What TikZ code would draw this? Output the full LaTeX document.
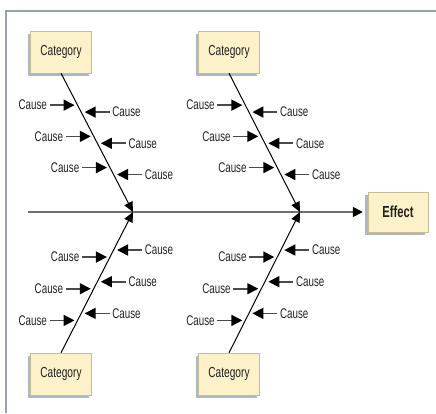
\documentclass[tikz,border=0pt]{standalone}
\usepackage{fontspec}
\setmainfont{Liberation Sans}[FakeStretch=0.7]
\usetikzlibrary{arrows.meta, positioning, calc, shadows}
\definecolor{boxFill}{HTML}{FCF1C8}
\definecolor{boxLine}{HTML}{C9BC94}
\definecolor{boxShadow}{HTML}{A9B9C8}
\definecolor{frameLine}{HTML}{94A3B3}
\definecolor{spineGray}{HTML}{6E6E6E}
\definecolor{shaftGray}{HTML}{4A4A4A}
\definecolor{ink}{HTML}{222222}
\tikzset{
  catBox/.style = {rectangle, draw=boxLine, fill=boxFill, thin,
    minimum width=61pt, minimum height=42pt, text=ink,
    font=\fontsize{14.5}{16}\selectfont,
    drop shadow={shadow xshift=-3pt, shadow yshift=-3pt, fill=boxShadow, opacity=1}},
  effectBox/.style = {catBox, minimum width=60pt, minimum height=40pt,
    font=\fontsize{16}{18}\selectfont\bfseries},
  cause/.style = {inner sep=2.5pt, text=ink, font=\fontsize{14}{16}\selectfont},
  causeArrow/.style = {-{Triangle[length=11pt, width=11pt, color=black]},
    line width=1.6pt, draw=shaftGray},
  bone/.style = {-{Triangle[length=10pt, width=9pt]}, line width=1pt, draw=black},
  spine/.style = {-{Triangle[length=10pt, width=10pt, color=black]}, line width=1.6pt,
    draw=spineGray, shorten >=5pt},
  frame/.style = {line width=2pt, draw=frameLine},
}
\begin{document}
\begin{tikzpicture}[x=1pt, y=-1pt]
\useasboundingbox (0,0) rectangle (436,413);
\draw[frame] (436,11) -- (6,11) -- (6,413);

% head and spine
\node[effectBox] (effect) at (398,212) {Effect};
\coordinate (tail) at (28,212);
\coordinate (j1) at (133,212);
\coordinate (j2) at (300,212);
\draw[spine] (tail) -- (effect);

% categories
\node[catBox] (cat1) at (61,52) {Category};
\node[catBox] (cat2) at (229,52) {Category};
\node[catBox] (cat3) at (61,374) {Category};
\node[catBox] (cat4) at (229,374) {Category};

% bones with their causes
\foreach \k/\jn/\an in {1/1/south, 2/2/south, 3/1/north, 4/2/north} {
  \draw[bone] (cat\k.\an) -- (j\jn);
  \foreach \f [count=\i] in {0.23, 0.455, 0.68} {
    \coordinate (l\k\i) at ($(cat\k.\an)!\f!(j\jn) + (-3,0)$);
    \node[cause, left=25pt of l\k\i] (cl\k\i) {Cause};
    \draw[causeArrow] (cl\k\i) -- (l\k\i);
  }
  \foreach \f [count=\i] in {0.28, 0.505, 0.73} {
    \coordinate (r\k\i) at ($(cat\k.\an)!\f!(j\jn) + (3.5,0)$);
    \node[cause, right=25pt of r\k\i] (cr\k\i) {Cause};
    \draw[causeArrow] (cr\k\i) -- (r\k\i);
  }
}

\end{tikzpicture}
\end{document}
